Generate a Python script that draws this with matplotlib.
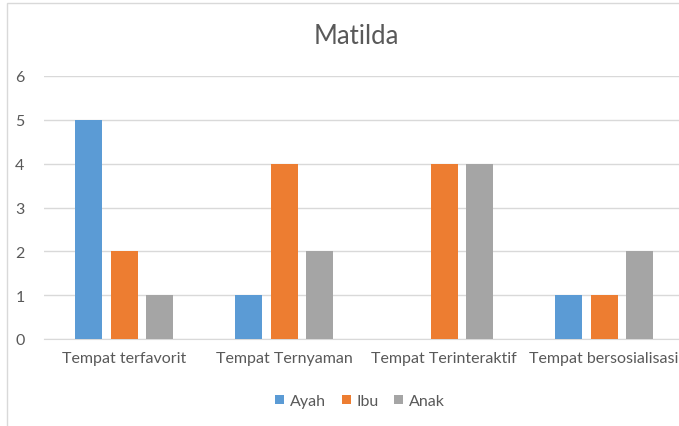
import matplotlib
matplotlib.use("Agg")
import matplotlib.pyplot as plt
import numpy as np
from matplotlib.patches import Rectangle

categories = ["Tempat terfavorit", "Tempat Ternyaman", "Tempat Terinteraktif", "Tempat bersosialisasi"]
series_names = ["Ayah", "Ibu", "Anak"]
ayah = [5, 1, 0, 1]
ibu = [2, 4, 4, 1]
anak = [1, 2, 4, 2]
yticks = [0, 1, 2, 3, 4, 5, 6]
title = "Matilda"

colors = ["#5B9BD5", "#ED7D31", "#A5A5A5"]
plt.rcParams['font.family'] = ['Lato', 'DejaVu Sans']

W, H = 679, 427
fig = plt.figure(figsize=(W / 100, H / 100), dpi=100)
fig.patch.set_facecolor("white")

# chart border
fig.patches.append(Rectangle((7 / W, -0.1), 1.2, (H - 4) / H + 0.1, transform=fig.transFigure,
                             fill=False, edgecolor="#D9D9D9", linewidth=1.0))

x0, x1 = 44, 684
ybot, ytop = 340, 77
ax = fig.add_axes([x0 / W, (H - ybot) / H, (x1 - x0) / W, (ybot - ytop) / H])
x = np.arange(len(categories))
off = 35.5 / 160
bw = 27 / 160
for i, (vals, name) in enumerate(zip([ayah, ibu, anak], series_names)):
    ax.bar(x + (i - 1) * off, vals, width=bw, color=colors[i], label=name, zorder=3)

ax.set_xlim(-0.5, len(categories) - 0.5)
ax.set_ylim(0, 6)
ax.set_yticks(yticks)
ax.set_yticklabels([str(v) for v in yticks])
ax.set_xticks(x)
ax.set_xticklabels(categories)
ax.tick_params(axis="both", length=0, labelsize=11.5, colors="#595959")
ax.tick_params(axis="y", pad=14)
ax.tick_params(axis="x", pad=9)
ax.grid(axis="y", color="#D9D9D9", linewidth=1.0, zorder=0)
for s in ["top", "right", "left"]:
    ax.spines[s].set_visible(False)
ax.spines["bottom"].set_color("#D9D9D9")
ax.set_facecolor("none")

fig.text(356 / W, (H - 37) / H, title, ha="center", va="center", fontsize=18.5, color="#595959")

handles, labels = ax.get_legend_handles_labels()
leg = fig.legend(handles, labels, loc="center", bbox_to_anchor=(360 / W, (H - 402) / H), ncol=3,
                 frameon=False, fontsize=11.5, handlelength=0.55, handleheight=0.55, handletextpad=0.35,
                 columnspacing=1.0, labelcolor="#595959")

fig.savefig("out.png", dpi=100)
